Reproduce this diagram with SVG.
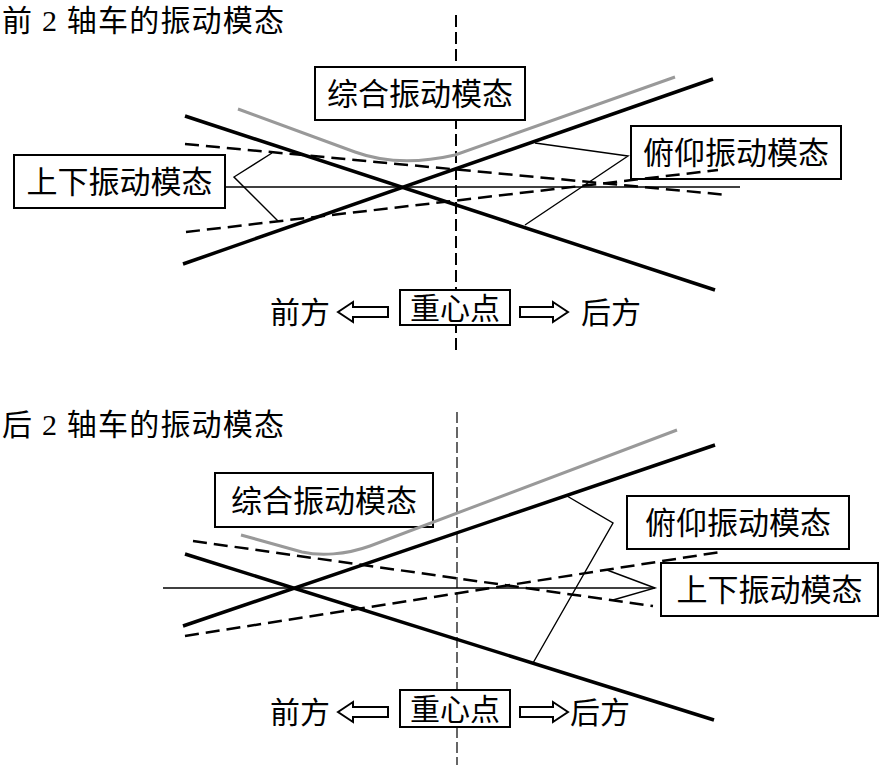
<svg xmlns="http://www.w3.org/2000/svg" width="880" height="770" viewBox="0 0 880 770">
<style>
text{font-family:"Liberation Serif","Noto Sans CJK SC",serif;fill:#000}
.title{font-size:30px}
.lbl{font-size:31px;text-anchor:middle}
.dir{font-size:30px;text-anchor:middle}
.box{fill:#fff;stroke:#000;stroke-width:2}
.thick{stroke:#000;stroke-width:3.5;fill:none}
.gray{stroke:#999;stroke-width:3;fill:none}
.dash{stroke:#000;stroke-width:2.5;fill:none;stroke-dasharray:14 7}
.thin{stroke:#000;stroke-width:1.4;fill:none}
.axis1{stroke:#000;stroke-width:2;stroke-dasharray:12 5}
.axis2{stroke:#000;stroke-width:1.2;stroke-dasharray:11 4}
.arrow{fill:#fff;stroke:#000;stroke-width:2}
</style>
<rect width="880" height="770" fill="#fff"/>
<text class="title" x="2" y="31" textLength="282" lengthAdjust="spacing">前 2 轴车的振动模态</text>
<text class="title" x="2" y="435" textLength="282" lengthAdjust="spacing">后 2 轴车的振动模态</text>
<g id="axes">
<line class="axis1" x1="456" y1="15" x2="456" y2="350"/>
<line class="axis2" x1="457" y1="412" x2="457" y2="765"/>
</g>
<g id="top-combined"><rect class="box" x="315" y="67" width="210" height="53"/><text class="lbl" x="420" y="105">综合振动模态</text></g>
<g id="top-vertical"><rect class="box" x="14" y="155" width="211" height="53"/><text class="lbl" x="119.5" y="193">上下振动模态</text></g>
<g id="top-pitch"><rect class="box" x="631" y="126" width="210" height="53"/><text class="lbl" x="736" y="164">俯仰振动模态</text></g>
<g id="top-cg"><rect class="box" x="400" y="290" width="110" height="35"/><text class="dir" x="455" y="319">重心点</text></g>
<g id="top-front"><text class="dir" x="300" y="323">前方</text><polygon class="arrow" points="338,312 353,302 353,307 388,307 388,317 353,317 353,322"/></g>
<g id="top-rear"><polygon class="arrow" points="568,312 553,302 553,307 520,307 520,317 553,317 553,322"/><text class="dir" x="611" y="323">后方</text></g>
<g id="bot-combined"><rect class="box" x="215" y="473" width="218" height="54"/><text class="lbl" x="324" y="512">综合振动模态</text></g>
<g id="bot-pitch"><rect class="box" x="627" y="496" width="222" height="53"/><text class="lbl" x="738" y="534">俯仰振动模态</text></g>
<g id="bot-vertical"><rect class="box" x="661" y="563" width="217" height="53"/><text class="lbl" x="769.5" y="601">上下振动模态</text></g>
<g id="bot-cg"><rect class="box" x="400" y="690" width="110" height="37"/><text class="dir" x="455" y="720">重心点</text></g>
<g id="bot-front"><text class="dir" x="300" y="723">前方</text><polygon class="arrow" points="338,712 353,702 353,707 388,707 388,717 353,717 353,722"/></g>
<g id="bot-rear"><polygon class="arrow" points="568,712 553,702 553,707 520,707 520,717 553,717 553,722"/><text class="dir" x="600" y="723">后方</text></g>
<g id="connectors">
<line class="thin" x1="225" y1="187" x2="740" y2="187"/>
<path class="gray" d="M238,109 L355,152 C385,163 420,163 455,155 L675,77"/>
<line class="thick" x1="185" y1="116" x2="715" y2="290"/>
<line class="thick" x1="183" y1="264" x2="713" y2="79"/>
<line class="dash" x1="185" y1="144" x2="728" y2="195"/>
<line class="dash" x1="186" y1="232" x2="718" y2="170"/>
<polyline class="thin" points="272,153 234,177 278,221"/>
<polyline class="thin" points="535,143 628,156 525,225"/>
<line class="thin" x1="163" y1="588" x2="655" y2="588"/>
<path class="gray" d="M241,535 L302,552 C320,556 345,555 370,546 L677,430"/>
<line class="thick" x1="183" y1="626" x2="715" y2="445"/>
<line class="thick" x1="185" y1="554" x2="714" y2="720"/>
<line class="dash" x1="193" y1="541" x2="653" y2="606"/>
<line class="dash" x1="185" y1="636" x2="720" y2="552"/>
<polyline class="thin" points="607,570 655,588 613,600"/>
<polyline class="thin" points="567,496 613,523 533,663"/>
</g>
</svg>
